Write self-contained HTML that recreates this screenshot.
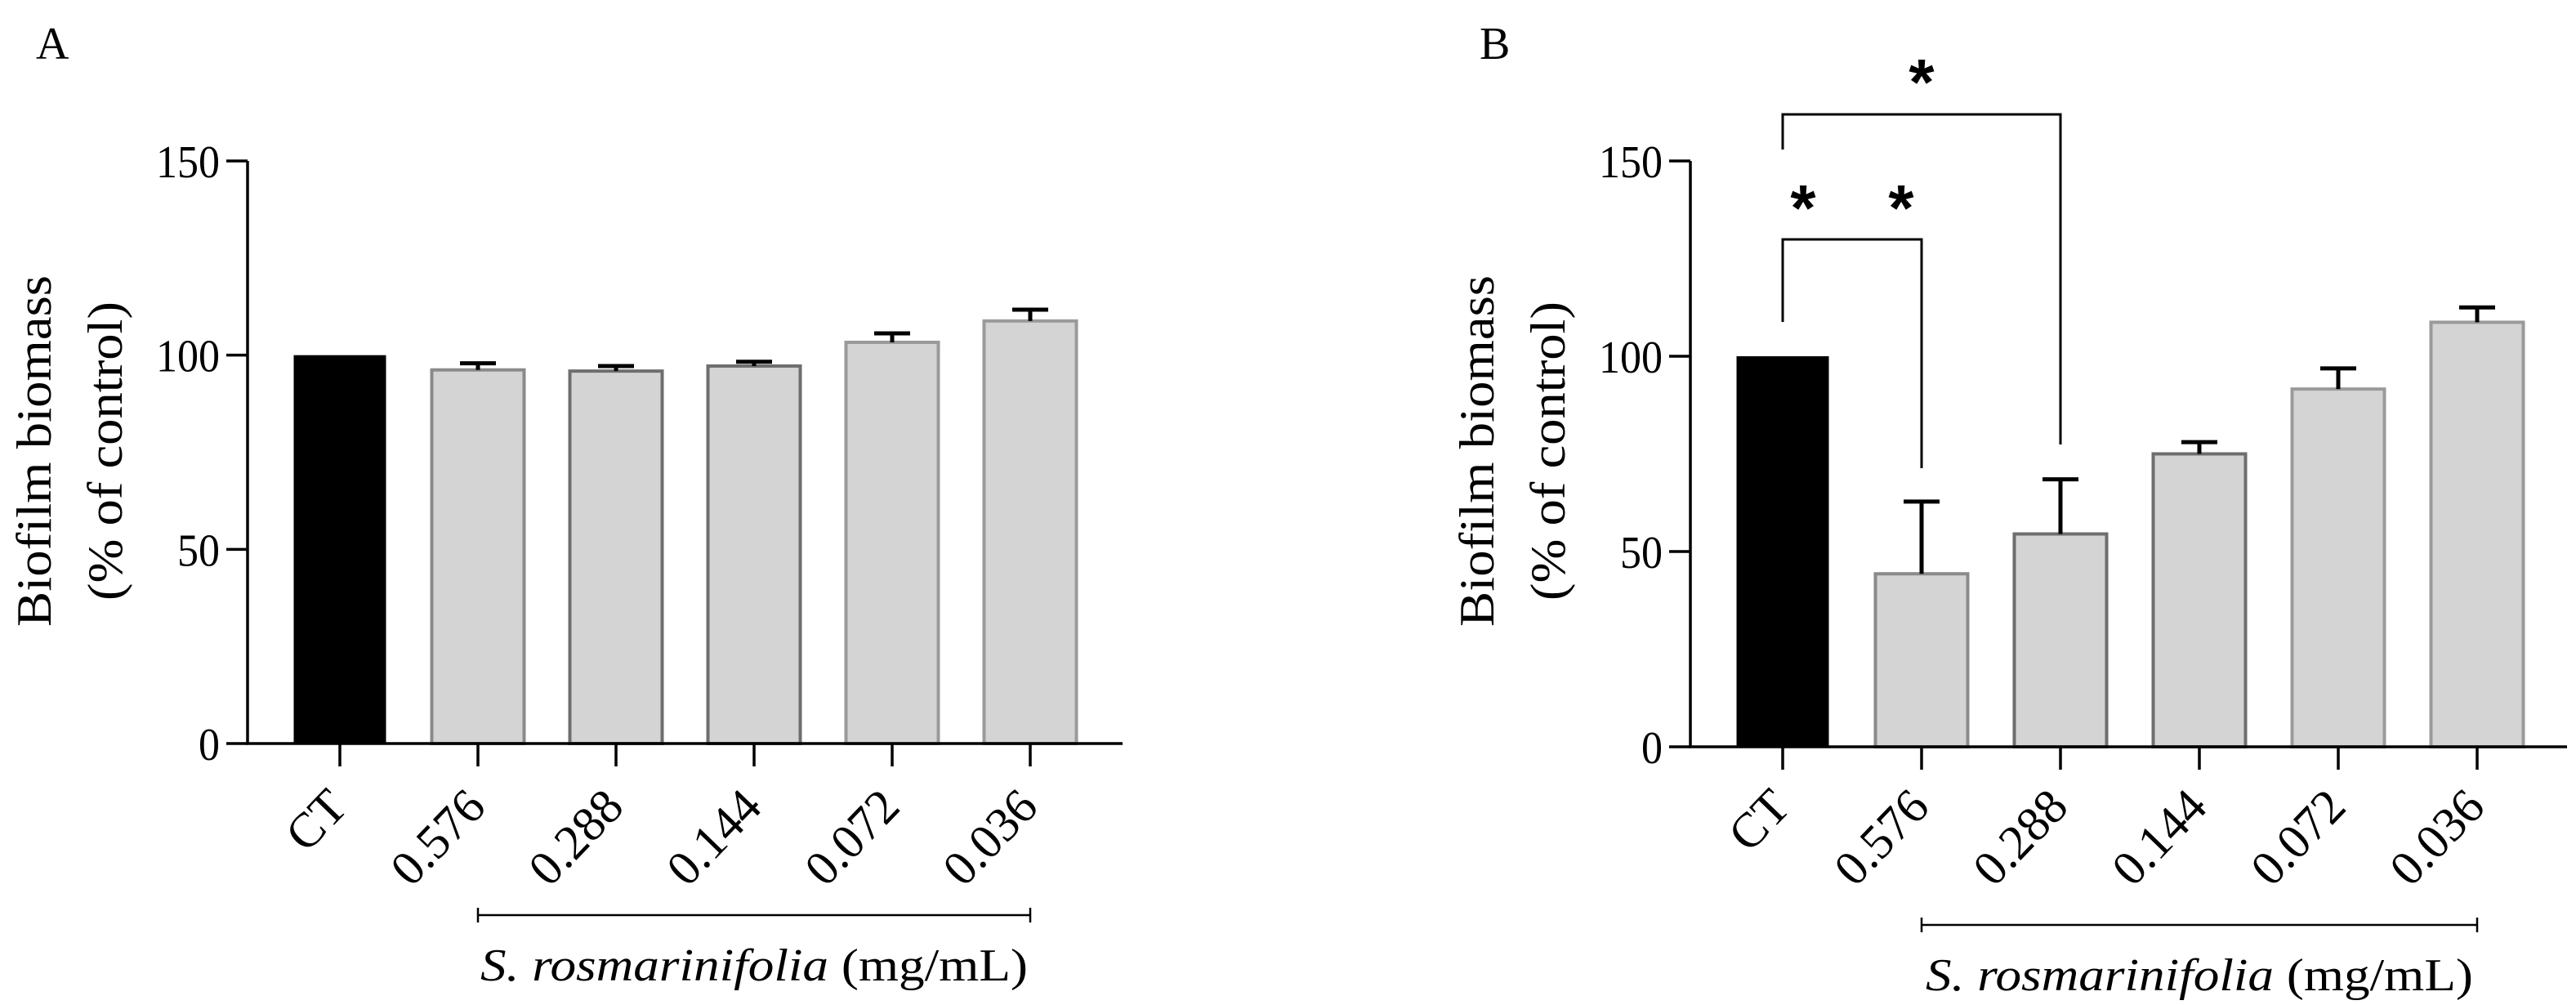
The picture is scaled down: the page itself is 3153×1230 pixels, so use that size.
<!DOCTYPE html>
<html><head><meta charset="utf-8"><style>
html,body{margin:0;padding:0;background:#fff;}
svg{display:block;}
text{font-family:"Liberation Serif",serif;fill:#000;}
</style></head><body>
<svg id="chart" width="3153" height="1230" viewBox="0 0 3153 1230" xmlns="http://www.w3.org/2000/svg">
<g id="pA"></g>
<g id="pB"></g>
</svg>
<script>
const categories = ["CT","0.576","0.288","0.144","0.072","0.036"];
const valuesA = [100, 96.2, 95.9, 97.2, 103.3, 108.8];
const errorsA = [0, 1.7, 1.3, 1.1, 2.3, 2.9];
const valuesB = [100, 44.3, 54.5, 75, 91.6, 108.7];
const errorsB = [0, 18.5, 14, 3, 5.3, 3.8];
const yTicks = [0, 50, 100, 150];
const strokesA = ["#000","#8a8a8a","#6e6e6e","#6e6e6e","#9a9a9a","#9a9a9a"];
const strokesB = ["#000","#8a8a8a","#6e6e6e","#6e6e6e","#9a9a9a","#9a9a9a"];
const sigComparisons = [{from:0,to:1,stars:2},{from:0,to:2,stars:1}];

const NS="http://www.w3.org/2000/svg";
function mk(parent,tag,attrs,txt){const e=document.createElementNS(NS,tag);for(const k in attrs)e.setAttribute(k,attrs[k]);if(txt!==undefined)e.textContent=txt;parent.appendChild(e);return e;}

function panel(g,cfg){
  const y=v=>cfg.y0-(v/150)*(cfg.y0-cfg.y150);
  const x=i=>cfg.x0+i*cfg.step;
  const bw=113;
  let t;
  t=mk(g,'text',{x:cfg.letterX,y:72,'font-size':56},cfg.letter);
  
  
  t=mk(g,'text',{transform:`translate(${cfg.t1},552) rotate(-90)`,'text-anchor':'middle','font-size':60,textLength:430,lengthAdjust:'spacingAndGlyphs'},"Biofilm biomass");
  
  
  t=mk(g,'text',{transform:`translate(${cfg.t1+87},552) rotate(-90)`,'text-anchor':'middle','font-size':60,textLength:366,lengthAdjust:'spacingAndGlyphs'},"(% of control)");
  
  
  categories.forEach((c,i)=>{
    const v=cfg.vals[i], cx=x(i);
    const r=mk(g,'rect',{x:cx-bw/2,y:y(v),width:bw,height:cfg.y0-y(v),fill:i===0?'#000':'#d4d4d4',stroke:cfg.strokes[i],'stroke-width':i===0?0:4});
    
    
    if(cfg.errs[i]>0){
      const top=y(v+cfg.errs[i]);
      const eb=mk(g,'path',{d:`M${cx} ${y(v)} V${top} M${cx-22} ${top} H${cx+22}`,stroke:'#000','stroke-width':5,fill:'none'});
      
      
    }
    const tk=mk(g,'line',{x1:cx,x2:cx,y1:cfg.y0,y2:cfg.y0+28,stroke:'#000','stroke-width':3.5});
    
    
    const lb=mk(g,'text',{transform:`translate(${cx+12},990) rotate(-46)`,'text-anchor':'end','font-size':60},c);
    
    
  });
  const ax=mk(g,'path',{d:`M${cfg.ax} ${cfg.y150} V${cfg.y0} H${cfg.axEnd}`,stroke:'#000','stroke-width':3.5,fill:'none'});
  
  
  yTicks.forEach(v=>{
    const l=mk(g,'line',{x1:cfg.ax-26,x2:cfg.ax,y1:y(v),y2:y(v),stroke:'#000','stroke-width':3.5});
    
    
    const tl=mk(g,'text',{x:cfg.ax-34,y:y(v)+20,'text-anchor':'end','font-size':56,textLength:String(v).length*26,lengthAdjust:'spacingAndGlyphs'},String(v));
    
    
  });
  const bx1=x(1), bx2=x(5);
  const br=mk(g,'path',{d:`M${bx1} ${cfg.brY} H${bx2} M${bx1} ${cfg.brY-9} V${cfg.brY+9} M${bx2} ${cfg.brY-9} V${cfg.brY+9}`,stroke:'#000','stroke-width':2.5,fill:'none'});
  
  
  const gl=mk(g,'text',{x:(bx1+bx2)/2,y:cfg.brY+80,'text-anchor':'middle','font-size':56,textLength:670,lengthAdjust:'spacingAndGlyphs'});
  
  
  mk(gl,'tspan',{'font-style':'italic'},'S. rosmarinifolia');
  mk(gl,'tspan',{},' (mg/mL)');
  return {x,y};
}

panel(document.getElementById('pA'),{letter:'A',letterX:44,t1:62,x0:416,step:169,ax:303,axEnd:1374,y0:910,y150:197,vals:valuesA,errs:errorsA,strokes:strokesA,brY:1120});
const B=panel(document.getElementById('pB'),{letter:'B',letterX:1811,t1:1828,x0:2182,step:170,ax:2069,axEnd:3142,y0:914,y150:197,vals:valuesB,errs:errorsB,strokes:strokesB,brY:1132});

const pB=document.getElementById('pB');
const sigGeom=[{top:293,leftBottom:394,rightBottom:573,starY:282},{top:140,leftBottom:183,rightBottom:544,starY:128}];
sigComparisons.forEach((s,k)=>{
  const g=sigGeom[k], x1=B.x(s.from), x2=B.x(s.to);
  const p=mk(pB,'path',{d:`M${x1} ${g.leftBottom} V${g.top} H${x2} V${g.rightBottom}`,stroke:'#000','stroke-width':3,fill:'none'});
  
  
  const mid=(x1+x2)/2;
  for(let j=0;j<s.stars;j++){
    const sx=s.stars===1?mid:mid+(j-0.5)*120;
    const st=mk(pB,'text',{x:sx,y:g.starY,'text-anchor':'middle','font-size':80,'font-weight':'bold',style:'font-family:"Liberation Sans",sans-serif'},"*");
    
    
  }
});
</script>
</body></html>
